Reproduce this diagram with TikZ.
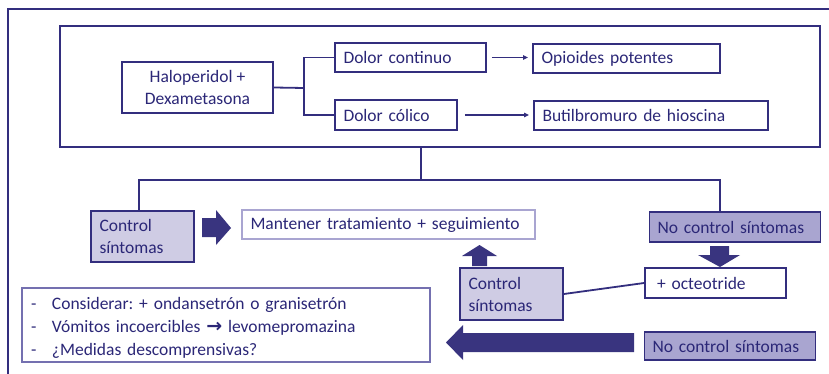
\documentclass[tikz,border=0pt]{standalone}
\usepackage{fontspec}
\setmainfont{Carlito}
\newfontfamily\symfont{DejaVu Sans}
\usetikzlibrary{positioning,arrows.meta,calc}
\definecolor{cNavy}{HTML}{332E7E}
\definecolor{cText}{HTML}{2B2777}
\definecolor{cLight}{HTML}{CFCCE4}
\definecolor{cMid}{HTML}{A9A5D0}
\definecolor{cPale}{HTML}{A9A5D1}
\definecolor{cSoft}{HTML}{7470B0}
\definecolor{cArrow}{HTML}{39347F}
\frenchspacing

\begin{document}
\begin{tikzpicture}[
  x=1pt, y=-1pt,
  font=\fontsize{17.5}{22}\selectfont,
  >={Triangle[length=5pt, width=4.5pt]},
  box/.style={draw=cNavy, line width=1.8pt, fill=white, text=cText,
              inner sep=0pt, align=center},
  lbox/.style={box, align=left, inner xsep=8pt},
  ctl/.style={lbox, fill=cLight},
  nctl/.style={lbox, fill=cMid},
  link/.style={draw=cNavy, line width=1.8pt},
  thin/.style={->, draw=cNavy, line width=1.2pt},
  block/.style={fill=cArrow},
]
\useasboundingbox (0,0) rectangle (829,374);
\clip (0,0) rectangle (829,374);

% ---- outer frame
\draw[cNavy, line width=2.5pt] (8,380) -- (8,9) -- (835,9);

% ---- first line: haloperidol
\node[box, line width=2.2pt, minimum width=760pt, minimum height=121pt] (stage1) at (440,86.5) {};
\node[box, minimum width=151pt, minimum height=51pt] (halo) at (197.5,87.5) {Haloperidol +\\Dexametasona};
\node[lbox, minimum width=151pt, minimum height=29pt, text width=134pt] (cont) at (410.5,57.5) {Dolor continuo};
\node[lbox, minimum width=122pt, minimum height=30pt, text width=105pt] (colico) at (396,115) {Dolor cólico};
\node[lbox, minimum width=187pt, minimum height=29pt, text width=170pt] (opio) at (626.5,58.5) {Opioides potentes};
\node[lbox, minimum width=234pt, minimum height=29pt, text width=217pt] (buti) at (651,115.5) {Butilbromuro de hioscina};
\coordinate (split) at (304,88);
\draw[link] (halo.east) -- (split);
\draw[link] (cont.west) -| (split) |- (colico.west);
\draw[thin, shorten <=5pt, shorten >=4pt] (cont.east) -- (cont.east -| opio.west);
\draw[thin, shorten <=7pt, shorten >=4pt] (colico.east) -- (colico.east -| buti.west);

% ---- response
\node[ctl, minimum width=103pt, minimum height=51pt, text width=86pt] (ctrlA) at (142.5,236.5) {Control\\síntomas};
\node[lbox, draw=cPale, minimum width=293pt, minimum height=29pt, text width=276pt] (mant) at (388.5,224.5) {Mantener tratamiento + seguimiento};
\node[nctl, minimum width=170pt, minimum height=30pt, text width=155pt] (nctrlA) at (735,227) {No control síntomas};
\coordinate (bus) at (421,180);
\coordinate (busL) at (139,180);
\coordinate (busR) at (720,180);
\draw[link] (bus |- stage1.south) -- (bus);
\draw[link] (busL |- ctrlA.north) -- (busL) -- (busR) -- (busR |- nctrlA.north);
\fill[block] (202,218) -- (216,218) -- (216,210) -- (231,228) -- (216,245) -- (216,237) -- (202,237) -- cycle;

% ---- second line: octeotride
\node[ctl, minimum width=103pt, minimum height=52pt, text width=86pt] (ctrlB) at (511.5,294) {Control\\síntomas};
\node[lbox, inner xsep=12pt, minimum width=141pt, minimum height=30pt, text width=117pt] (octeo) at (715.5,283) {+ octeotride};
\node[nctl, minimum width=170pt, minimum height=28pt, text width=155pt] (nctrlB) at (730,346) {No control síntomas};
\draw[link] (ctrlB.east) -- (octeo.west);
\draw[link] ($(octeo.south)+(5.5,0)$) -- ($(octeo.south)+(5.5,0)$ |- nctrlB.north);
\fill[block] (472,266) -- (472,256) -- (462,256) -- (479.5,245) -- (497,256) -- (487,256) -- (487,266) -- cycle;
\fill[block] (710,246) -- (729,246) -- (729,255) -- (740,255) -- (720,267) -- (698,255) -- (710,255) -- cycle;

% ---- last resort
\node[lbox, draw=cSoft, minimum width=408pt, minimum height=74pt, text width=390pt,
      font=\fontsize{17.5}{23}\selectfont] (list) at (226,325)
  {\rule{0pt}{18pt}\makebox[21pt][l]{-}Considerar: + ondansetrón o granisetrón\\
   \makebox[21pt][l]{-}Vómitos incoercibles {\symfont\bfseries\fontsize{19}{19}\selectfont →} levomepromazina\\
   \makebox[21pt][l]{-}¿Medidas descomprensivas?};
\fill[block] (634,333) -- (463,333) -- (463,325) -- (446,342.5) -- (463,360) -- (463,352) -- (634,352) -- cycle;
\end{tikzpicture}
\end{document}
